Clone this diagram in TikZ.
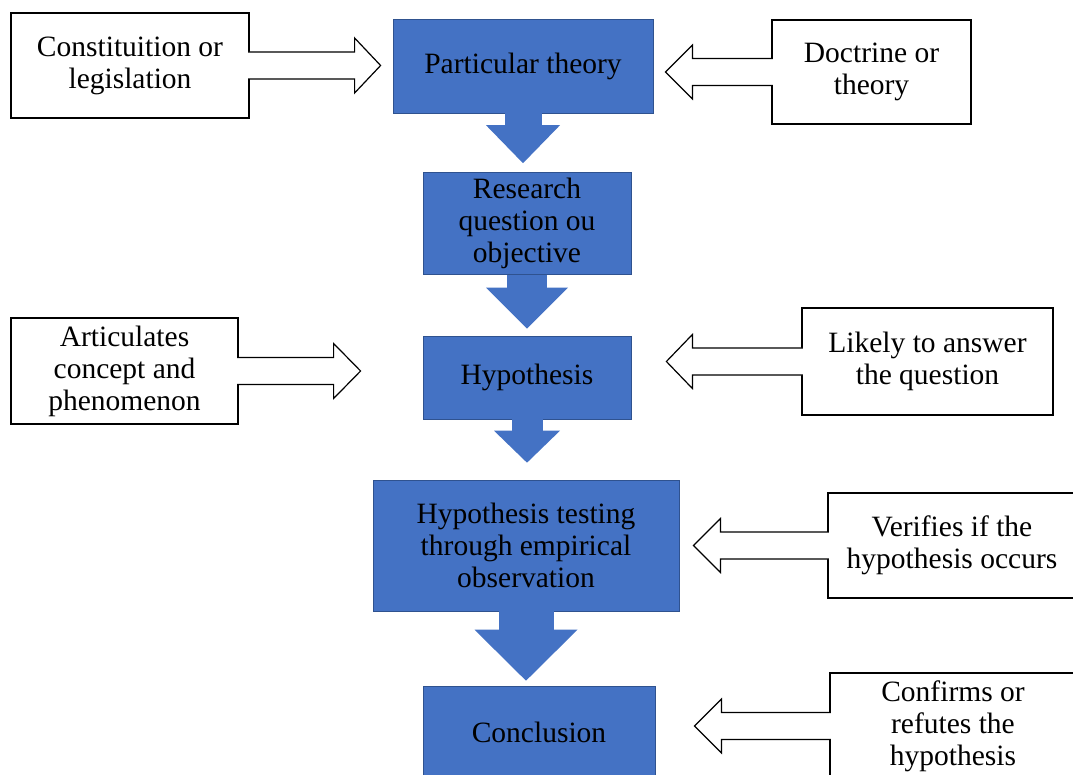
\documentclass[tikz,border=0pt]{standalone}
\usepackage{fontspec}
\setmainfont{Liberation Serif}
\usetikzlibrary{arrows.meta}
\usetikzlibrary{calc}

\definecolor{boxblue}{HTML}{4472C4}
\definecolor{boxedge}{HTML}{2F528F}

\begin{document}
\begin{tikzpicture}[x=1pt,y=-1pt,
  every node/.style={font=\fontsize{29.5}{32}\selectfont, align=center, inner sep=0pt},
  stage/.style={fill=boxblue, draw=boxedge, line width=0.6pt},
  note/.style={draw=black, fill=white, line width=1.2pt},
  callarrow/.style={draw=black, fill=white, line width=1.2pt, line join=miter},
  downarrow/.style n args={3}{boxblue, line width=#1, -{Triangle[width=#2,length=#3,line width=0pt]}}]
\useasboundingbox (0,0) rectangle (1073,775);
\clip (0,0) rectangle (1073,775);

% main chain
\node[stage, minimum width=260pt, minimum height=94pt] (pt) at (523,66) {Particular theory};
\node[stage, minimum width=208pt, minimum height=102pt] (rq) at (527,223.5) {Research\\question ou\\objective};
\node[stage, minimum width=208pt, minimum height=83pt] (hy) at (527,377.5) {Hypothesis};
\node[stage, minimum width=306pt, minimum height=131pt] (ht) at (526,545.5) {Hypothesis testing\\through empirical\\observation};
\node[stage, minimum width=232pt, minimum height=92pt] (cc) at (539,732) {Conclusion};

\draw[downarrow={37pt}{74pt}{38pt}, shorten >=9pt] (pt.south) -- (pt.south |- rq.north);
\draw[downarrow={40pt}{82pt}{41pt}, shorten >=7pt] (rq.south) -- (rq.south |- hy.north);
\draw[downarrow={31pt}{66pt}{32pt}, shorten >=17pt] (hy.south) -- (hy.south |- ht.north);
\draw[downarrow={55pt}{103pt}{51pt}, shorten >=5pt] (ht.south) -- (ht.south |- cc.north);

% side notes
\node[note, minimum width=238pt, minimum height=105pt] (a1) at (130,65.5) {Constituition or\\legislation};
\node[note, minimum width=199pt, minimum height=104pt] (b1) at (871.5,72) {Doctrine or\\theory};
\node[note, minimum width=227pt, minimum height=106pt] (a2) at (124.5,371) {Articulates\\concept and\\phenomenon};
\node[note, minimum width=251pt, minimum height=107pt] (b2) at (927.5,361.5) {Likely to answer\\the question};
\node[note, minimum width=248pt, minimum height=105pt] (b3) at (952,545.5) {Verifies if the\\hypothesis occurs};
\node[note, minimum width=246pt, minimum height=106pt] (b4) at (953,726) {Confirms or\\refutes the\\hypothesis};

\draw[callarrow] ($(a1.east)+(-1.5,-13.5)$) -- ++(106.5,0) -- ++(0,-14) -- ++(26,27.5) -- ++(-26,27.5) -- ++(0,-14) -- ++(-106.5,0);
\draw[callarrow] ($(a2.east)+(-1.5,-13.5)$) -- ++(96.5,0) -- ++(0,-14) -- ++(27,27.5) -- ++(-27,27.5) -- ++(0,-14) -- ++(-96.5,0);
\draw[callarrow] ($(b1.west)+(1.5,-13.5)$) -- ++(-80.5,0) -- ++(0,-13.5) -- ++(-27,27) -- ++(27,27) -- ++(0,-13.5) -- ++(80.5,0);
\draw[callarrow] ($(b2.west)+(1.5,-13.5)$) -- ++(-110.5,0) -- ++(0,-13.5) -- ++(-26,27) -- ++(26,27) -- ++(0,-13.5) -- ++(110.5,0);
\draw[callarrow] ($(b3.west)+(1.5,-13.5)$) -- ++(-108.5,0) -- ++(0,-13.5) -- ++(-27,27) -- ++(27,27) -- ++(0,-13.5) -- ++(108.5,0);
\draw[callarrow] ($(b4.west)+(1.5,-13.5)$) -- ++(-109.5,0) -- ++(0,-13.5) -- ++(-27,27) -- ++(27,27) -- ++(0,-13.5) -- ++(109.5,0);
\end{tikzpicture}
\end{document}
